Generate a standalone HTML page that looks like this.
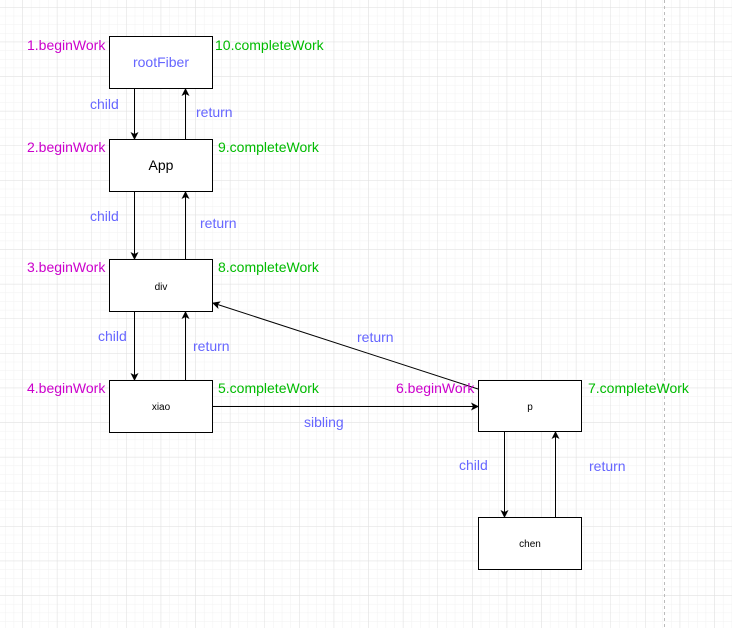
<!DOCTYPE html>
<html><head><style>
html,body{margin:0;padding:0;background:#fff;}
svg{display:block;}
text{font-family:"Liberation Sans",Arial,sans-serif;}
</style></head><body>
<svg width="732" height="628" xmlns="http://www.w3.org/2000/svg">
<defs>
<pattern id="minor" x="22.3" y="7.1" width="8.65" height="8.65" patternUnits="userSpaceOnUse">
<path d="M0 0H8.65M0 0V8.65" stroke="#f1f1f1" stroke-width="1" fill="none"/>
</pattern>
<pattern id="major" x="22.3" y="7.1" width="34.6" height="34.6" patternUnits="userSpaceOnUse">
<path d="M0 0H34.6M0 0V34.6" stroke="#e0e0e0" stroke-width="1" fill="none"/>
</pattern>
<marker id="ah" markerWidth="8" markerHeight="8" refX="7" refY="4" orient="auto" markerUnits="userSpaceOnUse">
<path d="M0 0L8 4L0 8L2 4Z" fill="#000"/>
</marker>
</defs>
<rect width="732" height="628" fill="#fff"/>
<rect width="732" height="628" fill="url(#minor)"/>
<rect width="732" height="628" fill="url(#major)"/>
<line x1="664.5" y1="0" x2="664.5" y2="628" stroke="#bbb" stroke-dasharray="3,3"/>

<g fill="#fff" stroke="#000" stroke-width="1">
<rect x="109.5" y="36.5" width="103" height="52"/>
<rect x="109.5" y="139.5" width="103" height="52"/>
<rect x="109.5" y="259.5" width="103" height="52"/>
<rect x="109.5" y="380.5" width="103" height="52"/>
<rect x="478.5" y="380.5" width="103" height="51"/>
<rect x="478.5" y="517.5" width="103" height="52"/>
</g>

<g stroke="#000" stroke-width="1" marker-end="url(#ah)">
<line x1="134.5" y1="89" x2="134.5" y2="139"/>
<line x1="185.5" y1="139" x2="185.5" y2="89"/>
<line x1="134.5" y1="192" x2="134.5" y2="259"/>
<line x1="185.5" y1="259" x2="185.5" y2="192"/>
<line x1="134.5" y1="312" x2="134.5" y2="380"/>
<line x1="185.5" y1="380" x2="185.5" y2="312"/>
<line x1="212" y1="406.5" x2="478" y2="406.5"/>
<line x1="478" y1="389" x2="213" y2="303"/>
<line x1="504.5" y1="432" x2="504.5" y2="517"/>
<line x1="555.5" y1="517" x2="555.5" y2="432"/>
</g>

<g font-size="14" text-anchor="middle">
<text x="161" y="67" fill="#6666ff">rootFiber</text>
<text x="161" y="170" fill="#000">App</text>
<text x="161" y="290" font-size="10" fill="#000">div</text>
<text x="161" y="410" font-size="10" fill="#000">xiao</text>
<text x="530" y="410" font-size="10" fill="#000">p</text>
<text x="530" y="547" font-size="10" fill="#000">chen</text>
</g>

<g font-size="14" fill="#cc00cc">
<text x="27" y="50">1.beginWork</text>
<text x="27" y="152">2.beginWork</text>
<text x="27" y="272">3.beginWork</text>
<text x="27" y="393">4.beginWork</text>
<text x="396" y="393">6.beginWork</text>
</g>
<g font-size="14" fill="#00bb00">
<text x="215" y="50">10.completeWork</text>
<text x="218" y="152">9.completeWork</text>
<text x="218" y="272">8.completeWork</text>
<text x="218" y="393">5.completeWork</text>
<text x="588" y="393">7.completeWork</text>
</g>
<g font-size="14" fill="#6666ff">
<text x="90" y="109">child</text>
<text x="196" y="117">return</text>
<text x="90" y="221">child</text>
<text x="200" y="228">return</text>
<text x="98" y="341">child</text>
<text x="193" y="351">return</text>
<text x="357" y="342">return</text>
<text x="304" y="427">sibling</text>
<text x="459" y="470">child</text>
<text x="589" y="471">return</text>
</g>
</svg>
</body></html>
